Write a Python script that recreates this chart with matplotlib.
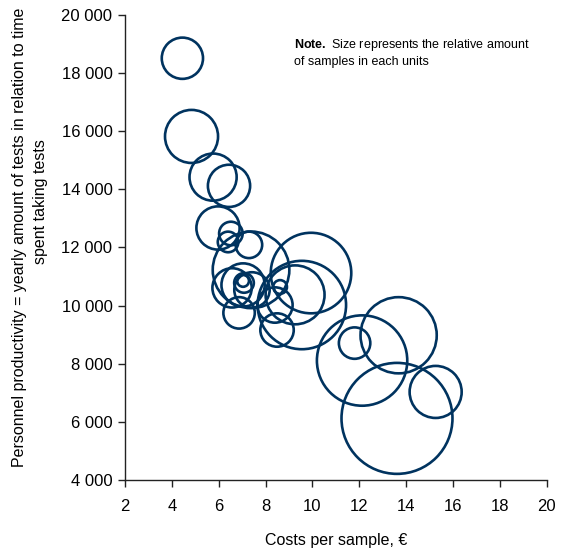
import matplotlib
matplotlib.use("Agg")
import matplotlib.pyplot as plt
from matplotlib.ticker import FuncFormatter

# cost per sample (EUR), productivity (tests/yr), relative amount of samples
cost = [4.45, 4.84, 5.76, 6.44, 5.97, 6.52, 6.40, 7.29, 7.38, 7.04, 6.57, 7.42, 7.04,
        7.08, 6.87, 8.62, 8.40, 8.49, 9.94, 9.55, 9.26, 13.68, 12.12, 11.80, 13.61, 15.26]
productivity = [18510, 15820, 14420, 14120, 12670, 12480, 12190, 12090, 11230, 10710,
                10610, 10540, 10850, 10780, 9750, 10640, 10020, 9160, 11120, 10020,
                10370, 8980, 8110, 8710, 6120, 7030]
samples = [441, 729, 576, 462, 484, 144, 110, 182, 1521, 484, 400, 324, 36,
           100, 256, 49, 324, 289, 1681, 2025, 900, 1505, 2116, 256, 3192, 702]

xticks = list(range(2, 21, 2))
yticks = list(range(4000, 20001, 2000))

plt.rcParams['font.family'] = ['Liberation Sans', 'DejaVu Sans']
plt.rcParams['mathtext.fontset'] = 'custom'
plt.rcParams['mathtext.bf'] = 'Liberation Sans:bold'
navy = '#00335F'

fig = plt.figure(figsize=(5.61, 5.53), dpi=100)
ax = fig.add_axes([0.2228, 0.132, 0.7517, 0.841])

ax.scatter(cost, productivity, s=[v * 2.0 for v in samples], facecolors='none',
           edgecolors=navy, linewidths=1.9, clip_on=False, zorder=3)

ax.set_xlim(2, 20)
ax.set_ylim(4000, 20000)
ax.set_xticks(xticks)
ax.set_yticks(yticks)
ax.yaxis.set_major_formatter(FuncFormatter(lambda v, p: f"{int(v):,}".replace(",", " ")))

for side in ['top', 'right']:
    ax.spines[side].set_visible(False)
for side in ['left', 'bottom']:
    ax.spines[side].set_color('#222222')
    ax.spines[side].set_linewidth(1.0)
ax.tick_params(direction='out', length=5, width=1.0, color='#222222',
               labelsize=12, pad=4)
ax.tick_params(axis='x', pad=9)

ax.set_xlabel("Costs per sample, \u20ac", fontsize=11.5, labelpad=13)

fig.text(0.035, 0.1555, "Personnel productivity = yearly amount of tests in relation to time",
         rotation=90, ha='center', va='bottom', fontsize=11.5)
fig.text(0.072, 0.635, "spent taking tests", rotation=90, ha='center', va='center',
         fontsize=11.5)

ax.text(0.4, 0.952, r"$\bf{Note.}$ Size represents the relative amount" + "\nof samples in each units",
        transform=ax.transAxes, fontsize=9, va='top', ha='left', linespacing=1.35)

fig.savefig("out.png", dpi=100)
